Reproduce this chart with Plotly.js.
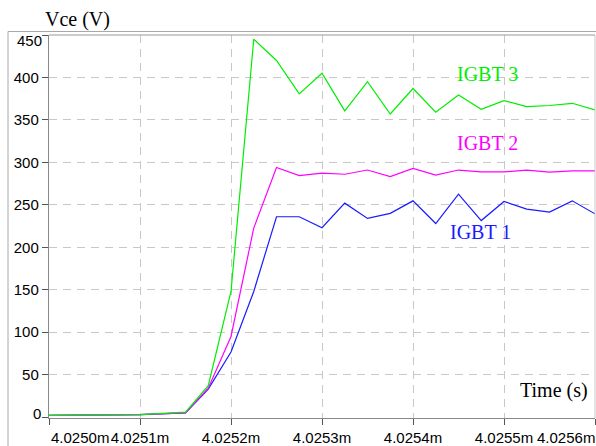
<!DOCTYPE html>
<html>
<head>
<meta charset="utf-8">
<script src="https://cdn.plot.ly/plotly-3.0.1.min.js"></script>
<style>html,body{margin:0;padding:0;background:#fff;}#chart{width:596px;height:446px;}</style>
</head>
<body>
<div id="chart"></div>
<script>
// Time samples (ms)
var timeMs = [4.0250, 4.0251, 4.02515, 4.025175, 4.0252, 4.025225, 4.02525, 4.025275, 4.0253, 4.025325, 4.02535,
              4.025375, 4.0254, 4.025425, 4.02545, 4.025475, 4.0255, 4.025525, 4.02555, 4.025575, 4.0256];
// Vce (V) per IGBT
var igbt1 = [2, 3, 5, 33, 76.7, 148, 236, 236, 223, 252, 234, 240, 254.7, 228, 262.6, 231.5, 254, 245, 241.4, 254.7, 239.4];
var igbt2 = [2, 3, 5, 34, 95, 222.6, 294, 284.5, 287.3, 286, 291, 283.3, 293, 285, 291, 288.8, 288.8, 291, 288.5, 290, 290];
var igbt3 = [2, 3, 6, 37, 148, 445, 420, 380.6, 405, 360.6, 395, 357, 387, 359, 379.4, 362.6, 372.7, 365.6, 367, 369.6, 361.8];
var seriesNames = ["IGBT 1", "IGBT 2", "IGBT 3"];
var seriesColors = ["#1a1aff", "#ff00ff", "#00ee00"];

var xTickVals = [4.0250, 4.0251, 4.0252, 4.0253, 4.0254, 4.0255, 4.0256];
var xTickText = ["4.0250m", "4.0251m", "4.0252m", "4.0253m", "4.0254m", "4.0255m", "4.0256m"];
var yTickVals = [0, 50, 100, 150, 200, 250, 300, 350, 400, 450];

var tickFont = {family: "Liberation Sans, Arial, sans-serif", size: 15, color: "#000"};
var serifFont = {family: "Liberation Serif, Times New Roman, serif", size: 20, color: "#000"};

var allY = [igbt1, igbt2, igbt3];
var traces = allY.map(function (ys, i) {
  return {x: timeMs, y: ys, type: "scatter", mode: "lines", name: seriesNames[i],
          line: {color: seriesColors[i], width: 1.2}, hoverinfo: "skip"};
});

// inner tick labels via axis; end labels via annotations so they fit inside
var xText = xTickText.map(function (t, i) { return (i === 0 || i === xTickText.length - 1) ? "" : t; });
var yText = yTickVals.map(function (v, i) { return (i === 0 || i === yTickVals.length - 1) ? "" : String(v); });

var gridCol = "#c8c8c8";
var annotations = [
  {xref: "paper", yref: "paper", x: 0.053, y: 1, yshift: 16, xanchor: "center", yanchor: "middle",
   text: "Vce (V)", showarrow: false, font: serifFont},
  {xref: "paper", yref: "paper", x: (590 - 49) / 546, y: (418 - 390) / 383, xanchor: "right", yanchor: "middle",
   text: "Time (s)", showarrow: false, font: serifFont},
  {xref: "paper", yref: "paper", x: 0.803, y: 0.897, xanchor: "center", yanchor: "middle",
   text: seriesNames[2], showarrow: false, font: {family: serifFont.family, size: 20, color: seriesColors[2]}},
  {xref: "paper", yref: "paper", x: 0.804, y: 0.718, xanchor: "center", yanchor: "middle",
   text: seriesNames[1], showarrow: false, font: {family: serifFont.family, size: 20, color: seriesColors[1]}},
  {xref: "paper", yref: "paper", x: 0.791, y: 0.486, xanchor: "center", yanchor: "middle",
   text: seriesNames[0], showarrow: false, font: {family: serifFont.family, size: 20, color: seriesColors[0]}},
  // end tick labels
  {xref: "x", yref: "paper", x: xTickVals[0], y: 0, yshift: -19, xanchor: "left", yanchor: "middle",
   text: xTickText[0], showarrow: false, font: tickFont},
  {xref: "x", yref: "paper", x: xTickVals[xTickVals.length - 1], y: 0, yshift: -19, xshift: 2, xanchor: "right", yanchor: "middle",
   text: xTickText[xTickText.length - 1], showarrow: false, font: tickFont},
  {xref: "paper", yref: "y", x: 0, y: yTickVals[yTickVals.length - 1], xshift: -5, yshift: -5, xanchor: "right", yanchor: "middle",
   text: String(yTickVals[yTickVals.length - 1]), showarrow: false, font: tickFont},
  {xref: "paper", yref: "y", x: 0, y: yTickVals[0], xshift: -6, yshift: 4, xanchor: "right", yanchor: "middle",
   text: String(yTickVals[0]), showarrow: false, font: tickFont}
];

var shapes = [
  // outer frame
  {type: "rect", xref: "paper", yref: "paper", x0: (8 - 49) / 546, x1: (600 - 49) / 546,
   y0: (418 - 460) / 383, y1: (418 - 31.5) / 383, line: {color: "#a8a8a8", width: 1}, fillcolor: "rgba(0,0,0,0)", layer: "below"},
  // plot top border
  {type: "line", xref: "paper", yref: "paper", x0: 0, x1: 1, y0: 1, y1: 1, line: {color: "#999", width: 1.2}},
  // plot right border
  {type: "line", xref: "paper", yref: "paper", x0: 1, x1: 1, y0: 0, y1: 1, line: {color: "#c8c8c8", width: 1}}
];

var layout = {
  width: 596, height: 446,
  margin: {l: 49, r: 1, t: 35, b: 28, pad: 0},
  paper_bgcolor: "#fff", plot_bgcolor: "#fff",
  showlegend: false,
  font: tickFont,
  xaxis: {
    range: [4.0250, 4.0256], tickmode: "array", tickvals: xTickVals, ticktext: xText,
    ticks: "outside", ticklen: 6, tickcolor: "#555", tickwidth: 1,
    showline: true, linecolor: "#888", linewidth: 1.2,
    showgrid: true, gridcolor: gridCol, gridwidth: 1, griddash: "8px,6px",
    zeroline: false, tickfont: tickFont, ticklabeloverflow: "allow", automargin: false,
    title: {text: ""}
  },
  yaxis: {
    range: [-1, 450], tickmode: "array", tickvals: yTickVals, ticktext: yText,
    ticks: "outside", ticklen: 6, tickcolor: "#555", tickwidth: 1,
    showline: true, linecolor: "#888", linewidth: 1.2,
    showgrid: true, gridcolor: gridCol, gridwidth: 1, griddash: "8px,6px",
    zeroline: false, tickfont: tickFont, automargin: false,
    title: {text: ""}
  },
  annotations: annotations,
  shapes: shapes
};

Plotly.newPlot("chart", traces, layout, {displayModeBar: false, staticPlot: true});
</script>
</body>
</html>
